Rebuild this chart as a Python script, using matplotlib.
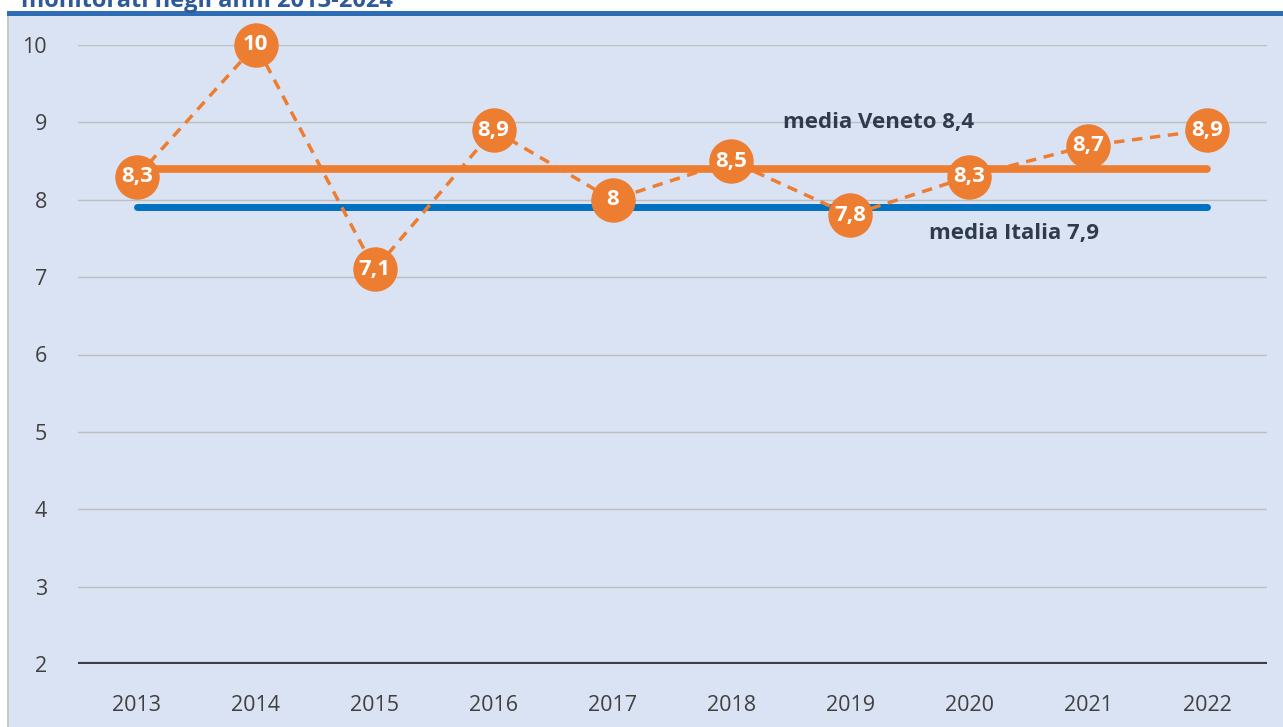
import matplotlib.pyplot as plt
from matplotlib.patches import Rectangle

# data
years = ["2013", "2014", "2015", "2016", "2017", "2018", "2019", "2020", "2021", "2022"]
values = [8.3, 10, 7.1, 8.9, 8.0, 8.5, 7.8, 8.3, 8.7, 8.9]
value_labels = ["8,3", "10", "7,1", "8,9", "8", "8,5", "7,8", "8,3", "8,7", "8,9"]
media_veneto = 8.4
media_italia = 7.9
y_ticks = [2, 3, 4, 5, 6, 7, 8, 9, 10]

orange = "#ED7D31"
blue = "#0070C0"
bg = "#DAE3F3"

plt.rcParams["font.family"] = ["Open Sans", "DejaVu Sans"]

fig = plt.figure(figsize=(12.83, 7.27), dpi=100)

# background panel, title bar and cut-off title
fig.patches.append(Rectangle((8 / 1283, 0), 1 - 8 / 1283, 1 - 15 / 727,
                             transform=fig.transFigure, facecolor=bg,
                             edgecolor="none", zorder=0))
fig.patches.append(Rectangle((7 / 1283, 0), 2 / 1283, 1 - 15 / 727,
                             transform=fig.transFigure, facecolor="#C8C8C8",
                             edgecolor="none", zorder=0))
fig.patches.append(Rectangle((7 / 1283, 1 - 16 / 727), 1, 5 / 727,
                             transform=fig.transFigure, facecolor="#2E6DB4",
                             edgecolor="none", zorder=1))
fig.text(21 / 1283, 1 - 1 / 727, "monitorati negli anni 2013-2024",
         fontsize=17, fontweight="bold", color="#2E5A9A", va="center", ha="left")

ax = fig.add_axes([77.5 / 1283, 63 / 727, 1189 / 1283, 619 / 727])
ax.set_zorder(5)
ax.set_facecolor("none")
x = list(range(len(years)))

ax.set_xlim(-0.5, len(years) - 0.5)
ax.set_ylim(2, 10)
ax.set_yticks(y_ticks)
ax.set_xticks(x)
ax.set_xticklabels(years)
ax.tick_params(length=0, labelsize=15.5, labelcolor="#404040")
ax.tick_params(axis="y", pad=22)
ax.tick_params(axis="x", pad=22)
for s in ax.spines.values():
    s.set_visible(False)
for t in y_ticks[1:]:
    ax.axhline(t, color="#BFBFBF", lw=1, zorder=1)
ax.axhline(2, color="#3F3F3F", lw=3, zorder=1)

ax.plot([x[0], x[-1]], [media_italia] * 2, color=blue, lw=5,
        solid_capstyle="round", zorder=2)
ax.plot([x[0], x[-1]], [media_veneto] * 2, color=orange, lw=5.5,
        solid_capstyle="round", zorder=2)
ax.plot(x, values, color=orange, lw=2.5, ls=(0, (3, 2.2)), zorder=3)
ax.plot(x, values, ls="none", marker="o", ms=32, mfc=orange, mec="none",
        zorder=4, clip_on=False)
for xi, v, lab in zip(x, values, value_labels):
    ax.text(xi, v, lab, ha="center", va="center", color="white",
            fontsize=16, fontweight="bold", zorder=5)

ax.text(6.24, 9.0, "media Veneto 8,4", ha="center", va="center",
        fontsize=16, fontweight="bold", color="#2F3B4C")
ax.text(7.38, 7.57, "media Italia 7,9", ha="center", va="center",
        fontsize=16, fontweight="bold", color="#2F3B4C")

fig.savefig("out.png", dpi=100)
